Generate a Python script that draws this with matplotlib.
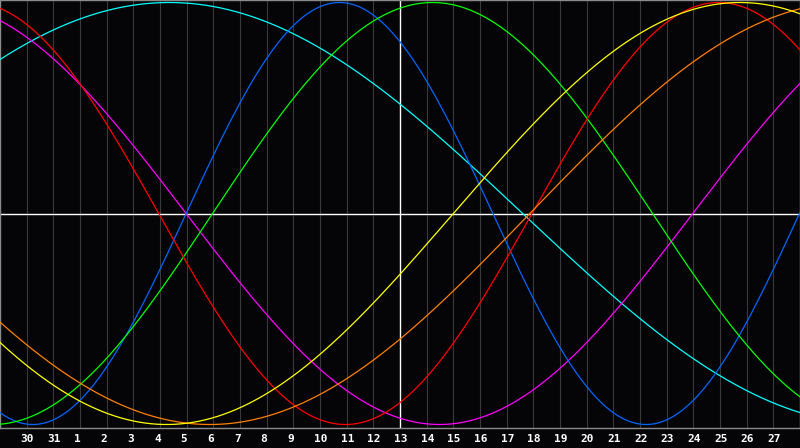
import numpy as np
import matplotlib
matplotlib.use("Agg")
import matplotlib.pyplot as plt

# ---- data ----
cycle_names = ["Physical", "Emotional", "Intellectual", "Intuitive",
               "Aesthetic", "Awareness", "Spiritual"]
cycle_periods = [23, 28, 33, 38, 43, 48, 53]          # days
cycle_zero_up = [-8.02, 4.95, -7.03, 10.98, 2.0, 4.87, -21.9]  # day offset (from today) of an upward zero crossing
day_offsets = list(range(-14, 15))
day_labels = ["30", "31"] + [str(d) for d in range(1, 28)]

# ---- style ----
cycle_colors = ["#0066ff", "#ff0000", "#00ff00", "#ff00ff",
                "#ffff00", "#ff8000", "#00ffff"]
W, H = 800, 448
plot_bottom_px = 428
zero_px = 213.5
amp_px = 211.0
bg = "#050507"

fig = plt.figure(figsize=(W / 100, H / 100), dpi=100, facecolor=bg)
ax = fig.add_axes([0, (H - plot_bottom_px) / H, 1, plot_bottom_px / H])
ax.set_facecolor(bg)
ax.set_xlim(-15, 15)
ax.set_ylim(-(plot_bottom_px - zero_px) / amp_px, zero_px / amp_px)

for d in day_offsets:
    if d != 0:
        ax.axvline(d, color="#3a3a3a", lw=0.8, zorder=1)
ax.axvline(0, color="white", lw=1.0, zorder=2)
ax.axhline(0, color="white", lw=1.0, zorder=2)

t = np.linspace(-15, 15, 1601)
order = [6, 3, 0, 2, 1, 5, 4]
for i in order:
    y = np.sin(2 * np.pi * (t - cycle_zero_up[i]) / cycle_periods[i])
    ax.plot(t, y, color=cycle_colors[i], lw=0.9, zorder=3, label=cycle_names[i])

for s in ax.spines.values():
    s.set_color("#8a8a8a")
    s.set_linewidth(1.0)
ax.set_xticks([])
ax.set_yticks([])

px_per_day = W / 30.0
for d, lab in zip(day_offsets, day_labels):
    x_px = 400 + d * px_per_day - 6
    fig.text(x_px / W, 1 - 439 / H, lab, color="white", fontsize=8,
             fontweight="bold", family="DejaVu Sans Mono",
             ha="left", va="center")

fig.savefig("out.png", dpi=100, facecolor=bg)
